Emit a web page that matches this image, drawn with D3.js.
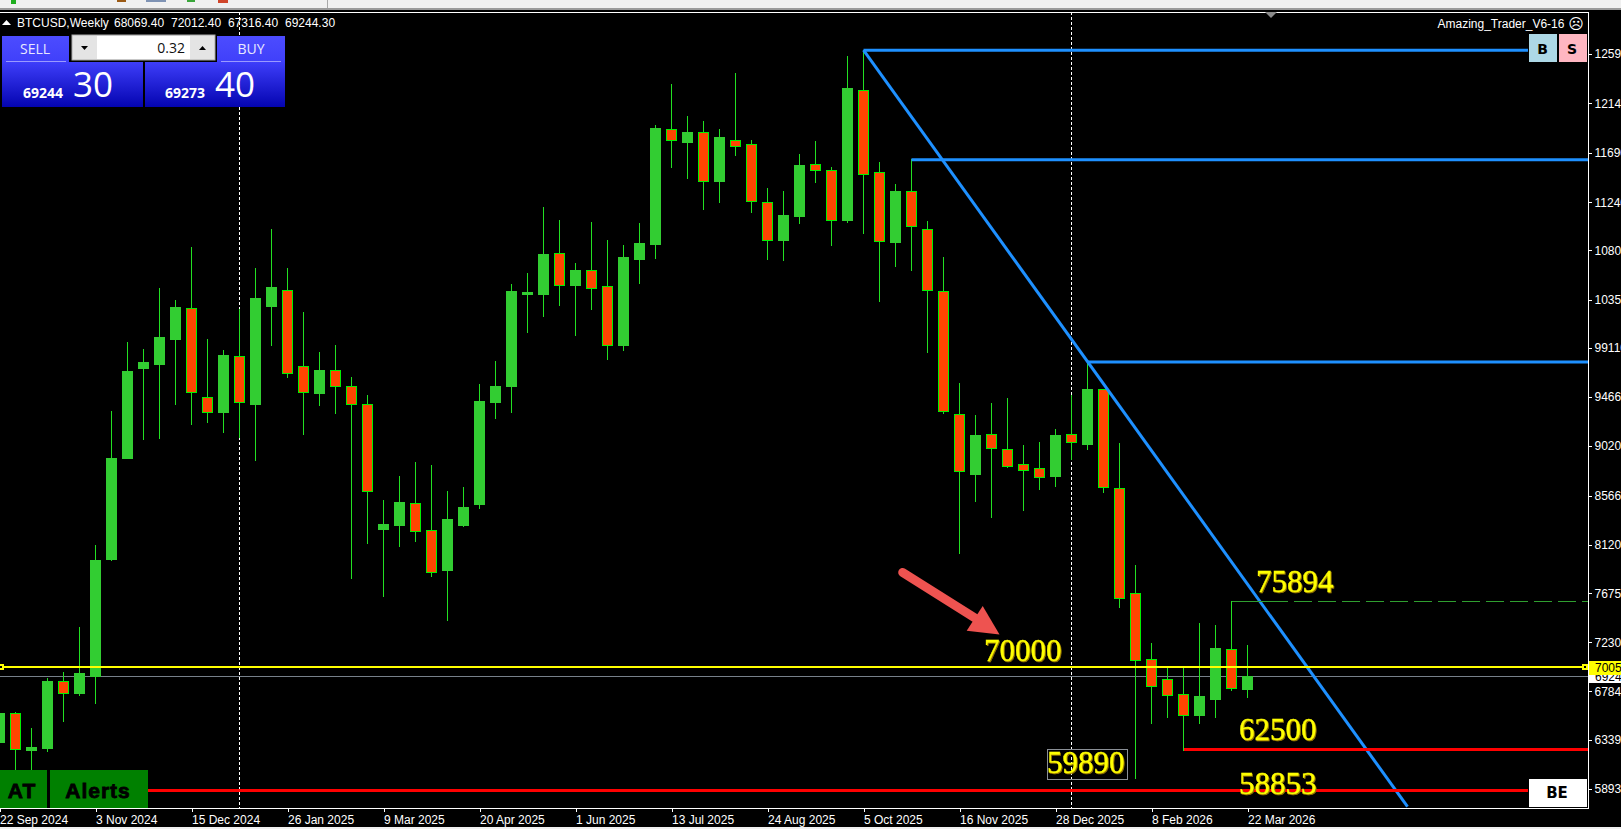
<!DOCTYPE html>
<html><head><meta charset="utf-8">
<style>
html,body{margin:0;padding:0;background:#000;overflow:hidden}
svg{display:block}
text{font-family:"Liberation Sans",sans-serif}
.ann{font-family:"Liberation Serif",serif;font-size:31px;fill:#ffff00;stroke:#ffff00;stroke-width:.35;filter:drop-shadow(1px 1px 0 #9a7a00)}
</style>
<script src="https://cdn.jsdelivr.net/npm/d3@7/dist/d3.min.js"></script>
</head><body><div id="c"></div>
<script>
const symbolName = "BTCUSD,Weekly";
const firstWeek = "2024-09-22";
const opens = [63240,65860,62480,62670,68770,67700,69230,79890,89090,97310,97680,99960,102750,94650,93310,98380,94040,102960,104390,97470,95010,97110,95650,94010,82620,82980,84990,82530,78910,82980,84920,94220,95680,104060,104060,107770,104880,106220,104760,99380,107250,108610,119060,117910,118790,114350,118060,117700,112410,108980,111160,115870,115330,110800,122620,115150,108800,113410,109950,104300,93100,87660,91270,89910,88540,88180,87450,91270,90360,95370,86350,76760,70750,68930,67560,65700,67160,71660,68069.4];
const highs = [66310,65950,64490,69040,69590,73690,81160,93370,99660,99020,104580,103480,108310,99930,98930,102660,106400,109950,106400,102390,98750,99380,96470,94830,85260,87450,88720,88450,86080,86450,95830,97930,104940,105940,111960,110760,106850,110590,108950,108490,110500,119430,123160,120250,119790,119060,124170,118060,113690,113410,116790,117970,115600,125710,126260,116060,114050,116300,110680,107400,95920,93010,94100,94550,90270,90550,91730,94830,97860,95370,90450,79340,72230,70050,70050,74050,73870,76030,72012.4];
const lows = [62670,60750,60750,62390,65130,67500,66770,79790,89090,90820,90940,94010,92190,92370,91460,91000,88910,99380,96470,91270,93920,93190,78150,81340,76540,81070,81530,78360,74360,82920,84560,92760,93310,100600,102050,103060,100320,102690,98130,98960,105060,107310,115630,114630,111800,112410,116690,111500,107220,107130,110500,114230,108490,110620,109620,103390,106580,106240,98770,93220,80430,85170,83710,88270,84350,86260,86540,89020,89910,85990,75540,59890,64940,65490,62500,64940,65490,67950,67316.4];
const closes = [65860,62600,62760,68770,67700,69500,79790,89090,97010,97830,100110,102850,95130,93310,98470,94220,103670,104670,96860,95130,97110,95650,94040,86110,83070,85080,82460,78730,83530,84620,94280,95650,104300,104210,107670,104880,106220,104600,99410,107400,108680,119150,118090,118790,114350,118330,117540,112530,108980,111230,115780,115360,110800,122800,114990,108830,113410,110250,104420,93400,87930,91180,90030,88390,88020,87380,91180,90570,95370,86470,76310,70660,68340,67520,65700,67380,71780,68160,69244.3];
const priceTicks = [125900,121400,116900,112400,108000,103500,99110,94660,90200,85660,81200,76750,72300,67840,63390,58930];
const dateTicks = ["2024-09-22","2024-11-03","2024-12-15","2025-01-26","2025-03-09","2025-04-20","2025-06-01","2025-07-13","2025-08-24","2025-10-05","2025-11-16","2025-12-28","2026-02-08","2026-03-22"];
const periodSeparators = ["2025-01-05","2026-01-04"];
const horizontalLevels = [126260,116300,97860];
const levelWeeks = [54,57,68];
const supportLevels = [62500,58853];
const highLevel = 76030;
const yellowLevel = 70050;
const bidPrice = 69244.3;
const trendWeeks = [54,88];
const trendPrices = [126260,57320];
const annotationTexts = ["75894","70000","62500","58853","59890"];
const tradeSpread = ["69244","30","69273","40"];
const lots = "0.32";

const W=1621,H=829;
const plotL=0,plotR=1588,plotT=12,plotB=808;
const parse=d3.utcParse("%Y-%m-%d");
const d0=parse(firstWeek);
const weekDate=i=>d3.utcDay.offset(d0,7*i);
const x=d3.scaleUtc().domain([d0,weekDate(78)]).range([-0.5,1247.5]);
const y=d3.scaleLinear().domain([58930,125900]).range([789,54]);
const bars=opens.map((o,i)=>({date:weekDate(i),o,h:highs[i],l:lows[i],c:closes[i]}));
const ry=v=>Math.round(y(v));

const svg=d3.select("#c").append("svg").attr("width",W).attr("height",H).attr("viewBox",`0 0 ${W} ${H}`);
const defs=svg.append("defs");
const grad=defs.append("linearGradient").attr("id","blue").attr("x1",0).attr("y1",0).attr("x2",0).attr("y2",1);
grad.append("stop").attr("offset","0%").attr("stop-color","#3e3efa");
grad.append("stop").attr("offset","100%").attr("stop-color","#0404b0");
const grad2=defs.append("linearGradient").attr("id","blueTop").attr("x1",0).attr("y1",0).attr("x2",0).attr("y2",1);
grad2.append("stop").attr("offset","0%").attr("stop-color","#4c4cff");
grad2.append("stop").attr("offset","100%").attr("stop-color","#4040fa");
defs.append("clipPath").attr("id","plot").append("rect").attr("x",plotL).attr("y",plotT).attr("width",plotR-plotL).attr("height",plotB-plotT);

svg.append("rect").attr("width",W).attr("height",H).attr("fill","#000");

// toolbar strip
svg.append("rect").attr("width",W).attr("height",8).attr("fill","#f0f0f0");
svg.append("rect").attr("y",8).attr("width",W).attr("height",2).attr("fill","#9a9a9a");
svg.append("rect").attr("x",327).attr("width",1).attr("height",8).attr("fill","#a8a8a8");
[[11,5,4,"#1fae1f"],[117,9,2,"#9b5a14"],[146,20,2,"#7f93b4"],[187,8,2,"#3aa63a"],[218,10,3,"#d0452a"]].forEach(a=>
  svg.append("rect").attr("x",a[0]).attr("y",0).attr("width",a[1]).attr("height",a[2]).attr("fill",a[3]));

const plot=svg.append("g").attr("clip-path","url(#plot)");

// period separators
plot.selectAll(".sep").data(periodSeparators).join("line").attr("class","sep")
 .attr("x1",d=>x(parse(d))).attr("x2",d=>x(parse(d))).attr("y1",plotT).attr("y2",plotB)
 .attr("stroke","#fff").attr("stroke-dasharray","3,2").attr("shape-rendering","crispEdges");

// bid line
plot.append("line").attr("x1",0).attr("x2",plotR).attr("y1",ry(bidPrice)+.5).attr("y2",ry(bidPrice)+.5)
 .attr("stroke","#77808a").attr("shape-rendering","crispEdges");

// candles
const g=plot.selectAll(".bar").data(bars).join("g").attr("class","bar").attr("shape-rendering","crispEdges");
g.append("line").attr("x1",d=>x(d.date)).attr("x2",d=>x(d.date)).attr("y1",d=>ry(d.h)).attr("y2",d=>ry(d.l)+1)
 .attr("stroke","#22e022");
g.append("rect")
 .attr("x",d=>x(d.date)-5).attr("width",10)
 .attr("y",d=>ry(Math.max(d.o,d.c))+.5)
 .attr("height",d=>Math.max(1,ry(Math.min(d.o,d.c))-ry(Math.max(d.o,d.c))))
 .attr("fill",d=>d.c>=d.o?"#32cd32":"#ff4500")
 .attr("stroke",d=>d.c>=d.o?"#32cd32":"#00f000");

// horizontal blue levels
const levelEnd=[1528,plotR,plotR];
plot.selectAll(".lvl").data(horizontalLevels).join("line").attr("class","lvl")
 .attr("x1",(d,i)=>x(weekDate(levelWeeks[i]))).attr("x2",(d,i)=>levelEnd[i])
 .attr("y1",d=>y(d)+.3).attr("y2",d=>y(d)+.3)
 .attr("stroke","#1e90ff").attr("stroke-width",3);
// trend line
plot.append("line")
 .attr("x1",x(weekDate(trendWeeks[0]))).attr("y1",y(trendPrices[0]))
 .attr("x2",x(weekDate(trendWeeks[1]))).attr("y2",y(trendPrices[1]))
 .attr("stroke","#1e90ff").attr("stroke-width",3);
// high level (green dashed)
plot.append("line").attr("x1",x(weekDate(77))).attr("x2",1270).attr("y1",ry(highLevel)+.5).attr("y2",ry(highLevel)+.5)
 .attr("stroke","#2f9e2f").attr("shape-rendering","crispEdges");
plot.append("line").attr("x1",1270).attr("x2",plotR).attr("y1",ry(highLevel)+.5).attr("y2",ry(highLevel)+.5)
 .attr("stroke","#2f9e2f").attr("stroke-dasharray","18,6").attr("shape-rendering","crispEdges");
// yellow level
plot.append("line").attr("x1",0).attr("x2",plotR).attr("y1",ry(yellowLevel)).attr("y2",ry(yellowLevel))
 .attr("stroke","#ffff00").attr("stroke-width",2).attr("shape-rendering","crispEdges");
[1,1585].forEach(cx=>{
 plot.append("rect").attr("x",cx-3).attr("y",ry(yellowLevel)-3).attr("width",6).attr("height",6).attr("fill","#ffff00").attr("shape-rendering","crispEdges");
 plot.append("rect").attr("x",cx-1).attr("y",ry(yellowLevel)-1).attr("width",2).attr("height",2).attr("fill","#000").attr("shape-rendering","crispEdges");
});
// red levels
plot.append("line").attr("x1",x(weekDate(74))).attr("x2",plotR)
 .attr("y1",ry(supportLevels[0])-.5).attr("y2",ry(supportLevels[0])-.5)
 .attr("stroke","#ff0000").attr("stroke-width",3).attr("shape-rendering","crispEdges");
plot.append("line").attr("x1",48).attr("x2",1528)
 .attr("y1",ry(supportLevels[1])+.5).attr("y2",ry(supportLevels[1])+.5)
 .attr("stroke","#ff0000").attr("stroke-width",3).attr("shape-rendering","crispEdges");

// plot frame
svg.append("line").attr("x1",0).attr("x2",plotR+1).attr("y1",12.5).attr("y2",12.5).attr("stroke","#fff").attr("shape-rendering","crispEdges");
svg.append("line").attr("x1",0).attr("x2",plotR+1).attr("y1",808.5).attr("y2",808.5).attr("stroke","#fff").attr("shape-rendering","crispEdges");
svg.append("line").attr("x1",plotR+.5).attr("x2",plotR+.5).attr("y1",12).attr("y2",809).attr("stroke","#fff").attr("shape-rendering","crispEdges");
svg.append("rect").attr("y",827).attr("width",W).attr("height",2).attr("fill","#f0f0f0");

// axes
const yAxis=d3.axisRight(y).tickValues(priceTicks).tickFormat(d3.format("d")).tickSize(3).tickPadding(3);
const ya=svg.append("g").attr("transform",`translate(${plotR+.5},0)`).call(yAxis);
ya.select(".domain").remove();
ya.selectAll("line").attr("stroke","#fff").attr("shape-rendering","crispEdges");
ya.selectAll("text").attr("fill","#fff").attr("font-size",12).attr("font-family","Liberation Sans");
const xAxis=d3.axisBottom(x).tickValues(dateTicks.map(parse)).tickFormat(d3.utcFormat("%-d %b %Y")).tickSize(3).tickPadding(2);
const xa=svg.append("g").attr("transform",`translate(0,808.5)`).call(xAxis);
xa.select(".domain").remove();
xa.selectAll("line").attr("stroke","#fff").attr("shape-rendering","crispEdges");
xa.selectAll("text").attr("fill","#fff").attr("font-size",12).attr("text-anchor","start").attr("font-family","Liberation Sans").attr("dy","0.85em");

// current-price tags
svg.append("rect").attr("x",1589).attr("y",674).attr("width",32).attr("height",9).attr("fill","#fff");
svg.append("text").attr("x",1595).attr("y",ry(bidPrice)+5).attr("font-size",12).attr("fill","#000").text(Math.floor(bidPrice));
svg.append("rect").attr("x",1589).attr("y",661).attr("width",32).attr("height",14).attr("fill","#ffff00");
svg.append("text").attr("x",1595).attr("y",672).attr("font-size",12).attr("fill","#000").text(yellowLevel);

// arrow
const arrow=svg.append("g").attr("fill","#ee5350").attr("stroke","none");
arrow.append("line").attr("x1",902.7).attr("y1",572.5).attr("x2",975).attr("y2",618).attr("stroke","#ee5350").attr("stroke-width",9).attr("stroke-linecap","round");
arrow.append("path").attr("d","M982.7,606L999.5,634.5L966.7,630.7Z");

// annotations
const annPos=[[1256,592],[984,661],[1239,740],[1239,794],[1047,773]];
svg.selectAll(".ann").data(annotationTexts).join("text").attr("class","ann")
 .attr("x",(d,i)=>annPos[i][0]).attr("y",(d,i)=>annPos[i][1]).text(d=>d);
svg.append("rect").attr("x",1047.5).attr("y",749.5).attr("width",80).attr("height",30).attr("fill","none").attr("stroke","#8a8f96").attr("shape-rendering","crispEdges");

// title
svg.append("path").attr("d","M2,25L11,25L6.5,20Z").attr("fill","#fff");
svg.append("text").attr("x",17).attr("y",27).attr("font-size",12).attr("fill","#fff").text(symbolName);
const last=bars[bars.length-1];
[last.o,last.h,last.l,last.c].forEach((v,i)=>svg.append("text").attr("x",114+57*i).attr("y",27).attr("font-size",12).attr("fill","#fff").text(v.toFixed(2)));
svg.append("text").attr("x",1437.5).attr("y",28).attr("font-size",12).attr("fill","#fff").text("Amazing_Trader_V6-16");
svg.append("text").attr("x",1576).attr("y",29).attr("text-anchor","middle").style("font-family","DejaVu Sans").attr("font-size",15).attr("fill","#fff").text("\u2639");
svg.append("path").attr("d","M1265,12L1277,12L1271,18Z").attr("fill","#8a8a8a");

// one-click panel
svg.append("rect").attr("x",2).attr("y",36).attr("width",67).attr("height",26).attr("fill","url(#blueTop)");
svg.append("rect").attr("x",217).attr("y",36).attr("width",68).attr("height",26).attr("fill","url(#blueTop)");
svg.append("rect").attr("x",2).attr("y",62).attr("width",141).attr("height",45).attr("fill","url(#blue)");
svg.append("rect").attr("x",145).attr("y",62).attr("width",140).attr("height",45).attr("fill","url(#blue)");
svg.append("rect").attr("x",6).attr("y",61).attr("width",60).attr("height",1).attr("fill","#9a9aff");
svg.append("rect").attr("x",221).attr("y",61).attr("width",60).attr("height",1).attr("fill","#9a9aff");
svg.append("text").attr("x",35).attr("y",54).attr("text-anchor","middle").attr("font-size",14).attr("fill","#e8e8ff").style("font-family","Open Sans").text("SELL");
svg.append("text").attr("x",251).attr("y",54).attr("text-anchor","middle").attr("font-size",14).attr("fill","#e8e8ff").style("font-family","Open Sans").text("BUY");
svg.append("rect").attr("x",72).attr("y",35).attr("width",143).attr("height",25).attr("fill","#e4e4e4").attr("stroke","#aaa");
svg.append("rect").attr("x",97).attr("y",36).attr("width",93).attr("height",23).attr("fill","#fff");
svg.append("path").attr("d","M81,46L88,46L84.5,50Z").attr("fill","#000");
svg.append("path").attr("d","M199,50L206,50L202.5,46Z").attr("fill","#000");
svg.append("text").attr("x",185).attr("y",53).attr("text-anchor","end").attr("font-size",14).attr("fill","#111").style("font-family","Open Sans").text(lots);
const priceAt=[[23,73],[165,215]];
priceAt.forEach((p,i)=>{
 svg.append("text").attr("x",p[0]).attr("y",98).attr("font-size",14).attr("font-weight",700).attr("fill","#fff").style("font-family","Open Sans").text(tradeSpread[i*2]);
 svg.append("text").attr("x",p[1]).attr("y",97).attr("font-size",35).attr("fill","#fff").style("font-family","Open Sans").attr("font-weight",400).text(tradeSpread[i*2+1]);
});

// buttons
svg.append("rect").attr("x",1529).attr("y",34).attr("width",28).attr("height",28).attr("fill","#add8e6");
svg.append("rect").attr("x",1559).attr("y",34).attr("width",28).attr("height",28).attr("fill","#ffb6c1");
[["B",1542.5],["S",1572]].forEach(a=>svg.append("text").attr("x",a[1]).attr("y",54).attr("text-anchor","middle").attr("font-size",14).attr("font-weight",700).attr("fill","#000").style("font-family","DejaVu Sans").text(a[0]));
svg.append("rect").attr("x",1529).attr("y",779).attr("width",58).attr("height",28).attr("fill","#fff");
svg.append("text").attr("x",1557).attr("y",798).attr("text-anchor","middle").attr("font-size",15).attr("font-weight",700).attr("fill","#000").style("font-family","DejaVu Sans").text("BE");
svg.append("rect").attr("x",0).attr("y",770).attr("width",47).attr("height",38).attr("fill","#008000");
svg.append("rect").attr("x",50).attr("y",770).attr("width",98).attr("height",38).attr("fill","#008000");
svg.append("rect").attr("x",47).attr("y",770).attr("width",3).attr("height",38).attr("fill","#000");
[["AT",22],["Alerts",98]].forEach(a=>svg.append("text").attr("x",a[1]).attr("y",798).attr("text-anchor","middle").attr("font-size",21).attr("font-weight",700).attr("fill","#000").attr("stroke","#000").attr("stroke-width",.8).attr("letter-spacing",1).text(a[0]));
</script></body></html>
